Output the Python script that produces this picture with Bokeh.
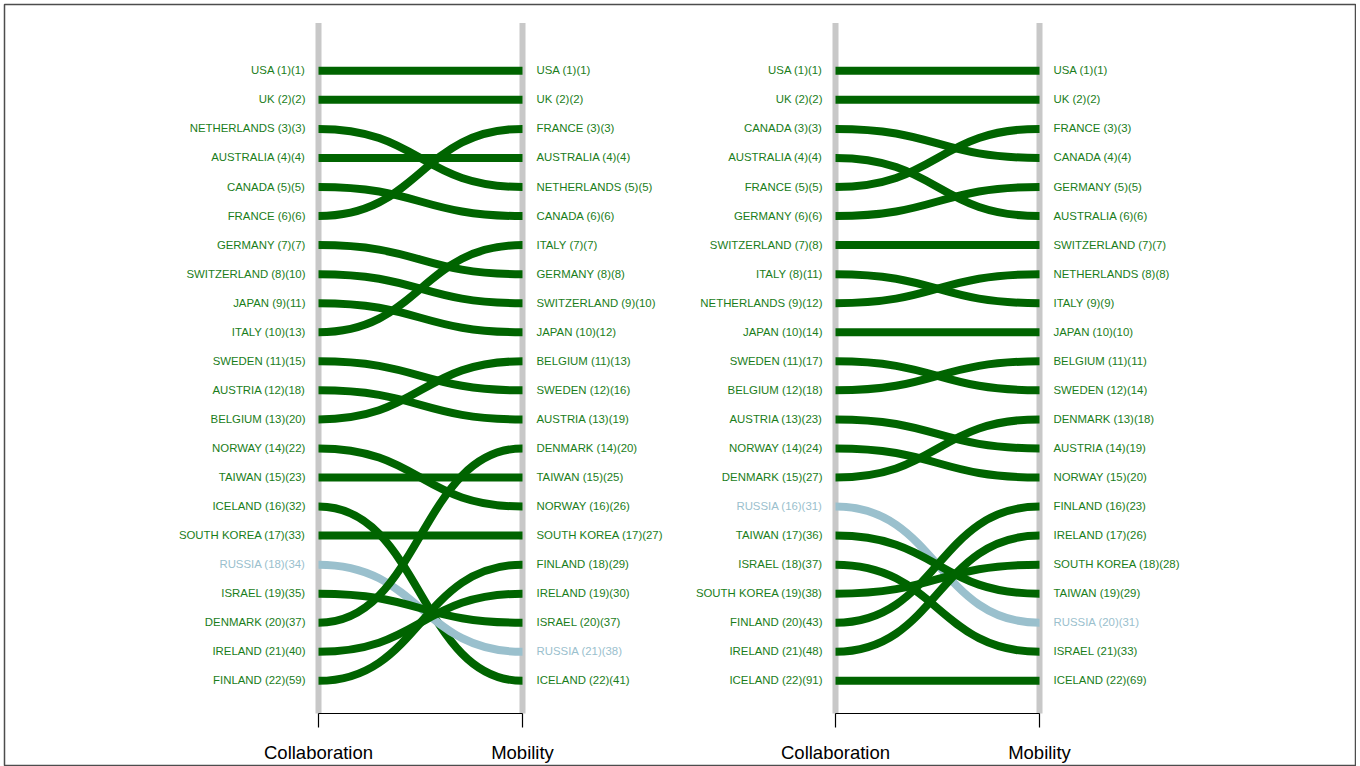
from bokeh.plotting import figure
from bokeh.models import ColumnDataSource, Range1d
from bokeh.embed import file_html
from bokeh.resources import INLINE
from bokeh.core.properties import value

# ---------------- data ----------------
# Panel A: countries in collaboration order, with their second number
collab_a_countries = ["USA", "UK", "NETHERLANDS", "AUSTRALIA", "CANADA", "FRANCE", "GERMANY",
                      "SWITZERLAND", "JAPAN", "ITALY", "SWEDEN", "AUSTRIA", "BELGIUM", "NORWAY",
                      "TAIWAN", "ICELAND", "SOUTH KOREA", "RUSSIA", "ISRAEL", "DENMARK",
                      "IRELAND", "FINLAND"]
collab_a_values = [1, 2, 3, 4, 5, 6, 7, 10, 11, 13, 15, 18, 20, 22, 23, 32, 33, 34, 35, 37, 40, 59]
mob_a_countries = ["USA", "UK", "FRANCE", "AUSTRALIA", "NETHERLANDS", "CANADA", "ITALY",
                   "GERMANY", "SWITZERLAND", "JAPAN", "BELGIUM", "SWEDEN", "AUSTRIA", "DENMARK",
                   "TAIWAN", "NORWAY", "SOUTH KOREA", "FINLAND", "IRELAND", "ISRAEL", "RUSSIA",
                   "ICELAND"]
mob_a_values = [1, 2, 3, 4, 5, 6, 7, 8, 10, 12, 13, 16, 19, 20, 25, 26, 27, 29, 30, 37, 38, 41]

# Panel B
collab_b_countries = ["USA", "UK", "CANADA", "AUSTRALIA", "FRANCE", "GERMANY", "SWITZERLAND",
                      "ITALY", "NETHERLANDS", "JAPAN", "SWEDEN", "BELGIUM", "AUSTRIA", "NORWAY",
                      "DENMARK", "RUSSIA", "TAIWAN", "ISRAEL", "SOUTH KOREA", "FINLAND",
                      "IRELAND", "ICELAND"]
collab_b_values = [1, 2, 3, 4, 5, 6, 8, 11, 12, 14, 17, 18, 23, 24, 27, 31, 36, 37, 38, 43, 48, 91]
mob_b_countries = ["USA", "UK", "FRANCE", "CANADA", "GERMANY", "AUSTRALIA", "SWITZERLAND",
                   "NETHERLANDS", "ITALY", "JAPAN", "BELGIUM", "SWEDEN", "DENMARK", "AUSTRIA",
                   "NORWAY", "FINLAND", "IRELAND", "SOUTH KOREA", "TAIWAN", "RUSSIA", "ISRAEL",
                   "ICELAND"]
mob_b_values = [1, 2, 3, 4, 5, 6, 7, 8, 9, 10, 11, 14, 18, 19, 20, 23, 26, 28, 29, 31, 33, 69]

axis_labels = ["Collaboration", "Mobility"]
highlight = "RUSSIA"

# ---------------- style / layout ----------------
GREEN = "#006400"
TEXT_GREEN = "#1a7d1a"
BLUE = "#9AC0CD"
BAR = "#c8c8c8"
W, H = 1356, 766
ML, MT, MR = 4, 4, 1
FW, FH = W - ML - MR, H - MT      # frame size
PX_UNIT = 204.0                  # pixels between the two columns of a panel
LEFT0 = 314.0                    # frame pixel of first panel's left column
PANEL_OFFSET = 517.0 / PX_UNIT
ROW_PX = 29.05
TOP_PX = 66.3                    # frame pixel of rank 1

x_start = -LEFT0 / PX_UNIT
x_end = x_start + FW / PX_UNIT
y_top = 1 - TOP_PX / ROW_PX
y_bottom = y_top + 709 / ROW_PX
y_frame_bottom = y_top + FH / ROW_PX
y_axis_text = y_top + 758 / ROW_PX

p = figure(width=W, height=H, output_backend="svg", toolbar_location=None,
           x_range=Range1d(x_start, x_end), y_range=Range1d(y_frame_bottom, y_top),
           min_border_left=ML, min_border_top=MT, min_border_right=MR, min_border_bottom=0)
p.axis.visible = False
p.grid.visible = False
p.outline_line_color = "#4d4d4d"
p.outline_line_width = 1.5
p.background_fill_color = "white"


def draw_panel(off, c_names, c_vals, m_names, m_vals):
    bar_top = y_top + 18.5 / ROW_PX
    # gray column bars
    p.segment(x0=[off, off + 1], y0=[bar_top, bar_top], x1=[off, off + 1],
              y1=[y_bottom, y_bottom], line_color=BAR, line_width=6)
    # connections
    x0, y0, x1, y1, cx0, cx1, col = [], [], [], [], [], [], []
    for i, name in enumerate(c_names):
        r1 = i + 1
        r2 = m_names.index(name) + 1
        x0.append(off); y0.append(r1)
        x1.append(off + 1); y1.append(r2)
        cx0.append(off + 0.5); cx1.append(off + 0.5)
        col.append(BLUE if name == highlight else GREEN)
    src = ColumnDataSource(dict(x0=x0, y0=y0, x1=x1, y1=y1, cx0=cx0, cy0=y0,
                                cx1=cx1, cy1=y1, col=col))
    p.bezier(x0="x0", y0="y0", x1="x1", y1="y1", cx0="cx0", cy0="cy0",
             cx1="cx1", cy1="cy1", line_color="col", line_width=8, line_cap="butt",
             source=src)
    # labels
    lt = [f"{n} ({i + 1})({v})" for i, (n, v) in enumerate(zip(c_names, c_vals))]
    lc = [BLUE if n == highlight else TEXT_GREEN for n in c_names]
    p.text(x=[off] * len(lt), y=list(range(1, len(lt) + 1)), text=lt, text_color=lc,
           text_align="right", text_baseline="middle", x_offset=-13, y_offset=-0.5,
           text_font=value("Liberation Sans"), text_font_size="11.4px")
    rt = [f"{n} ({i + 1})({v})" for i, (n, v) in enumerate(zip(m_names, m_vals))]
    rc = [BLUE if n == highlight else TEXT_GREEN for n in m_names]
    p.text(x=[off + 1] * len(rt), y=list(range(1, len(rt) + 1)), text=rt, text_color=rc,
           text_align="left", text_baseline="middle", x_offset=14, y_offset=-0.5,
           text_font=value("Liberation Sans"), text_font_size="11.4px")
    # axis bracket
    tick_len = 14 / ROW_PX
    p.segment(x0=[off], y0=[y_bottom], x1=[off + 1], y1=[y_bottom],
              line_color="black", line_width=1.2)
    p.segment(x0=[off, off + 1], y0=[y_bottom, y_bottom], x1=[off, off + 1],
              y1=[y_bottom + tick_len] * 2, line_color="black", line_width=1.2)
    p.text(x=[off, off + 1], y=[y_axis_text, y_axis_text], text=axis_labels,
           text_align="center", text_baseline="bottom", text_color="black",
           text_font=value("Liberation Sans"), text_font_size="18.5px")


draw_panel(0.0, collab_a_countries, collab_a_values, mob_a_countries, mob_a_values)
draw_panel(PANEL_OFFSET, collab_b_countries, collab_b_values, mob_b_countries, mob_b_values)

open("out.html", "w").write(file_html(p, INLINE))
